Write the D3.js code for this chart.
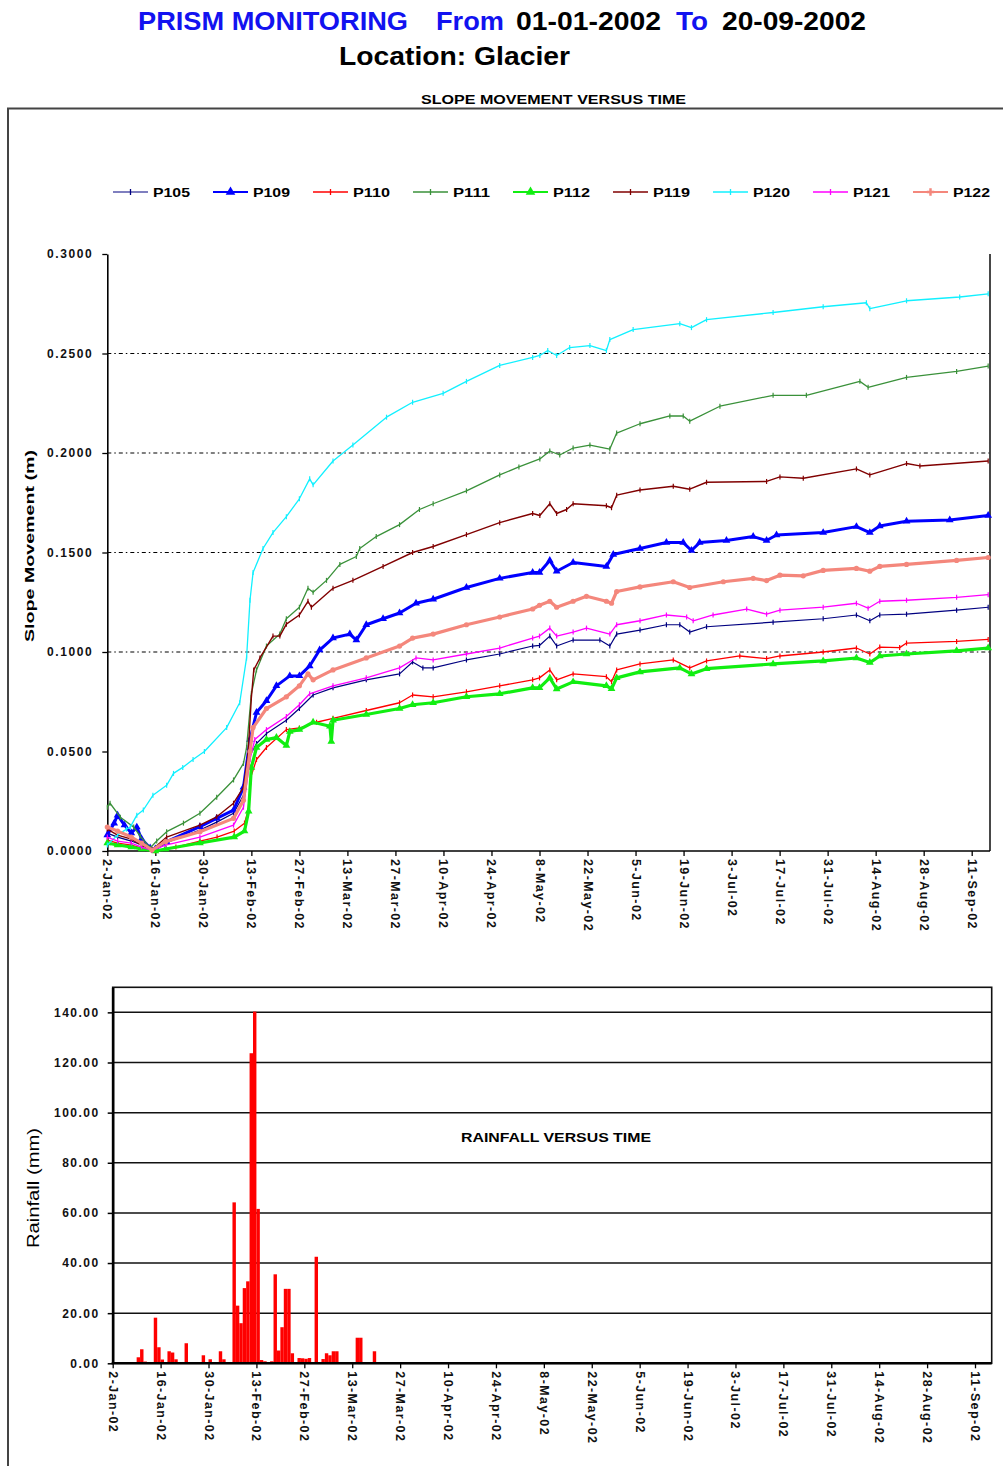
<!DOCTYPE html>
<html><head><meta charset="utf-8">
<script src="https://cdn.jsdelivr.net/npm/d3@7"></script>
<style>
body{margin:0;background:#fff;}
svg{display:block;font-family:"Liberation Sans",Arial,sans-serif;}
</style>
</head><body>
<svg id="c" width="1003" height="1466"></svg>
<script>
// ---------------- DATA ----------------
const tickLabels = ["2-Jan-02","16-Jan-02","30-Jan-02","13-Feb-02","27-Feb-02","13-Mar-02","27-Mar-02","10-Apr-02","24-Apr-02","8-May-02","22-May-02","5-Jun-02","19-Jun-02","3-Jul-02","17-Jul-02","31-Jul-02","14-Aug-02","28-Aug-02","11-Sep-02"];
const slopeTicks = [0, 0.05, 0.10, 0.15, 0.20, 0.25, 0.30];
const slopeGrid = [0.10, 0.15, 0.20, 0.25];
const rainTicks = [0, 20, 40, 60, 80, 100, 120, 140];
const seriesNames = ["P105","P109","P110","P111","P112","P119","P120","P121","P122"];

// [days since 2-Jan-2002, movement (m)]
const P105 = [[0,0.009],[3,0.007],[7,0.005],[10,0.003],[13,0.0003],[17,0.004],[27,0.0105],[31.9,0.0145],[36.8,0.019],[39.7,0.028],[41.6,0.048],[43.5,0.054],[46.4,0.059],[52.2,0.0657],[56,0.0716],[60,0.0784],[65.8,0.082],[75.5,0.086],[85.2,0.089],[89,0.095],[92,0.092],[95,0.092],[104.7,0.096],[114.4,0.099],[124,0.103],[126,0.1033],[129,0.108],[131,0.103],[135.8,0.106],[143.6,0.106],[146.5,0.103],[148.5,0.109],[155.3,0.111],[163,0.1137],[166.9,0.1137],[169.8,0.11],[174.7,0.1127],[194.1,0.115],[208.7,0.1167],[218.4,0.1186],[222.3,0.1157],[225.2,0.1186],[233,0.119],[247.6,0.121],[256.8,0.1225]];
const P109 = [[0,0.008],[2,0.014],[3,0.018],[5,0.013],[7,0.009],[8.6,0.012],[10,0.006],[12.5,0.0015],[14,0.001],[17.3,0.0047],[27,0.0122],[31.9,0.0164],[36.8,0.0205],[39.7,0.032],[41.6,0.056],[43.5,0.0696],[46.4,0.0755],[49.3,0.083],[53.2,0.088],[56,0.088],[59,0.093],[61.9,0.101],[65.8,0.107],[70.7,0.109],[72.6,0.106],[75.5,0.1137],[80.4,0.1167],[85.2,0.1196],[90,0.1245],[95,0.1265],[104.7,0.1324],[114.4,0.137],[124,0.14],[126,0.14],[129,0.146],[131,0.1406],[135.8,0.145],[145.5,0.143],[147.5,0.149],[155.3,0.152],[163,0.155],[167.9,0.155],[170.3,0.151],[172.7,0.155],[180.5,0.156],[188.3,0.158],[192.2,0.156],[195.1,0.1588],[208.7,0.16],[218.4,0.163],[222.3,0.16],[225.2,0.1633],[233,0.1657],[245.6,0.1663],[256.8,0.1686]];
const P110 = [[0,0.0055],[3,0.004],[7,0.003],[10,0.0015],[14,0],[20,0.002],[27,0.005],[32,0.007],[37,0.01],[40,0.014],[41,0.02],[42,0.038],[43.5,0.046],[46.4,0.052],[52.2,0.061],[56,0.0618],[61,0.0647],[65.8,0.0667],[75.5,0.0706],[85.2,0.0745],[89,0.0784],[95,0.0775],[104.7,0.08],[114.4,0.083],[124,0.086],[126,0.087],[129,0.091],[131,0.086],[135.8,0.089],[145.5,0.0876],[147,0.085],[148.5,0.091],[155.3,0.094],[165,0.096],[169.8,0.092],[174.7,0.0955],[184.4,0.098],[192.2,0.0967],[196.1,0.098],[208.7,0.1],[218.4,0.102],[222.3,0.099],[225.2,0.1025],[231,0.1022],[233,0.1045],[247.6,0.1053],[256.8,0.1063]];
const P111 = [[0,0.022],[0.8,0.024],[3.8,0.017],[7.7,0.012],[9.6,0.0075],[12.5,0.0015],[14.4,0.005],[17.3,0.0097],[22.2,0.014],[27,0.019],[31.9,0.027],[36.8,0.0357],[39.7,0.044],[40.6,0.052],[42,0.079],[43.5,0.091],[46.4,0.103],[50.3,0.109],[52.2,0.1167],[56,0.1225],[58.5,0.132],[60,0.13],[63.9,0.136],[67.8,0.144],[72.6,0.148],[73.6,0.152],[78.4,0.158],[85.2,0.164],[91,0.1716],[95,0.1745],[104.7,0.181],[114.4,0.189],[120,0.193],[126.1,0.197],[129,0.201],[131.9,0.199],[135.8,0.2025],[140.7,0.204],[146.5,0.202],[148.5,0.21],[155.3,0.2147],[164,0.2186],[167.9,0.2186],[169.8,0.216],[178.6,0.2235],[194.1,0.229],[203.8,0.229],[219.4,0.236],[221.8,0.233],[233,0.238],[247.6,0.241],[256.8,0.2437]];
const P112 = [[0,0.004],[3,0.003],[7,0.002],[10,0.001],[14,0],[17,0.001],[27,0.004],[37,0.007],[40,0.01],[41.2,0.02],[42,0.042],[43.5,0.052],[46.4,0.056],[49.3,0.057],[52.2,0.053],[53.2,0.06],[56,0.061],[60,0.0647],[64.9,0.0627],[65.3,0.055],[65.8,0.0657],[75.5,0.0686],[85.2,0.0716],[89,0.0735],[95,0.0745],[104.7,0.0775],[114.4,0.079],[124,0.082],[126,0.082],[129,0.087],[131,0.0814],[135.8,0.085],[145.5,0.083],[147,0.0815],[148.5,0.087],[155.3,0.09],[166.9,0.092],[170.3,0.089],[174.7,0.0916],[194.1,0.094],[208.7,0.0955],[218.4,0.097],[222.3,0.0947],[225.2,0.098],[233,0.099],[247.6,0.1006],[256.8,0.102]];
const P119 = [[0,0.011],[3,0.008],[7,0.006],[10,0.003],[13,0.0005],[17.3,0.007],[27,0.013],[31.9,0.0172],[36.8,0.024],[39.7,0.032],[41,0.048],[42,0.077],[42.7,0.091],[44.5,0.097],[48.3,0.108],[50.3,0.108],[52.2,0.114],[56,0.1186],[58.5,0.1255],[59.5,0.1225],[65.8,0.132],[71.6,0.136],[80.4,0.143],[89,0.15],[95,0.153],[104.7,0.159],[114.4,0.165],[124,0.1696],[126.1,0.1686],[129,0.1745],[131,0.1696],[133.9,0.1716],[135.8,0.1745],[145.5,0.1735],[147,0.1725],[148.5,0.1788],[155.3,0.1814],[165,0.1833],[169.8,0.1818],[174.7,0.1853],[192.2,0.1857],[196.1,0.188],[202.9,0.1873],[218.4,0.192],[222.3,0.189],[233,0.1947],[236.9,0.1935],[256.8,0.196]];
const P120 = [[0,0.003],[3,0.008],[5.6,0.011],[6.7,0.012],[8.6,0.018],[10.5,0.0206],[13.3,0.028],[17.3,0.033],[19.3,0.039],[22,0.042],[25,0.046],[28.3,0.05],[34.8,0.062],[38.6,0.0745],[40.6,0.097],[41.6,0.126],[42.5,0.14],[45.4,0.152],[48.3,0.16],[52.2,0.168],[56,0.177],[59,0.187],[60,0.184],[65.8,0.196],[71.6,0.204],[81.4,0.218],[89,0.2255],[97.9,0.23],[104.7,0.236],[114.4,0.244],[124,0.248],[126.1,0.249],[128.4,0.2515],[131,0.249],[134.8,0.253],[140.7,0.254],[145.5,0.2515],[146.5,0.257],[153.3,0.262],[166.9,0.265],[170.3,0.263],[174.7,0.267],[194.1,0.2706],[208.7,0.2735],[221.3,0.2755],[222.3,0.2725],[233,0.2765],[248.5,0.2784],[256.8,0.28]];
const P121 = [[0,0.007],[3,0.005],[7,0.004],[10,0.002],[13,0.0003],[17,0.003],[27,0.007],[36.8,0.013],[39.7,0.022],[41.6,0.046],[43,0.056],[46.4,0.061],[52.2,0.0676],[56,0.0735],[59,0.079],[65.8,0.083],[75.5,0.087],[85.2,0.092],[90,0.097],[95,0.096],[104.7,0.099],[114.4,0.102],[124,0.107],[126,0.108],[129,0.112],[131,0.108],[135.8,0.11],[139.7,0.112],[146.5,0.109],[148.5,0.1137],[155.3,0.1157],[163,0.1186],[168.9,0.1176],[170.8,0.1157],[176.6,0.1186],[186.4,0.1216],[192.2,0.119],[196.1,0.121],[208.7,0.1225],[218.4,0.1245],[221.8,0.122],[225.2,0.1255],[233,0.126],[247.6,0.1275],[256.8,0.1288]];
const P122 = [[0,0.012],[3,0.01],[7,0.007],[10,0.004],[13,0.0005],[17,0.0047],[27,0.0097],[36.8,0.0164],[39.7,0.0255],[41.6,0.05],[42.5,0.062],[46.4,0.0716],[52.2,0.0775],[56,0.083],[58.5,0.089],[60,0.086],[65.8,0.091],[75.5,0.097],[85.2,0.103],[89,0.107],[95,0.109],[104.7,0.1137],[114.4,0.1176],[124,0.1216],[126,0.1235],[129,0.1255],[131,0.1225],[135.8,0.1255],[139.7,0.128],[145.5,0.1255],[147,0.1245],[148.5,0.1304],[155.3,0.1327],[165,0.1353],[169.8,0.1324],[179.6,0.1353],[188.3,0.137],[192.2,0.1359],[196.1,0.1386],[202.9,0.1383],[208.7,0.141],[218.4,0.142],[222.3,0.1406],[225.2,0.143],[233,0.144],[247.6,0.146],[256.8,0.1475]];

// rainfall: day index since 2-Jan-2002, mm
const rainDays   = [7,8,9,12,13,14,16,17,18,21,26,28,31,32,35,36,37,38,39,40,41,42,43,44,46,47,48,49,50,51,52,54,55,56,57,59,61,62,63,64,65,71,72,76];
const rainValues = [2.4,5.6,0.7,18.2,6.4,1.5,4.8,4.3,1.6,8.0,3.2,1.6,4.8,1.6,64.2,23,16,30,32.7,123.7,140.3,61.6,1.3,0.8,0.8,35.5,5.1,14.4,29.7,29.7,4,2.1,2.0,1.8,2.1,42.5,1.7,4,3.2,4.8,4.8,10.2,10.2,4.8];

// ---------------- STYLES ----------------
const seriesData = [P105,P109,P110,P111,P112,P119,P120,P121,P122];
const styles = {
  P105:{c:"#000080",w:1.2,m:"tick"},
  P109:{c:"#0000ff",w:3,m:"tri"},
  P110:{c:"#ff0000",w:1.3,m:"tick"},
  P111:{c:"#3a913a",w:1.3,m:"tick"},
  P112:{c:"#11ee11",w:3.2,m:"tri"},
  P119:{c:"#800000",w:1.4,m:"tick"},
  P120:{c:"#11f0ff",w:1.3,m:"tick"},
  P121:{c:"#ff00ff",w:1.3,m:"tick"},
  P122:{c:"#f4877c",w:3.2,m:"dot"}
};

// ---------------- DRAW ----------------
const svg = d3.select("#c");
const base = new Date(2002,0,2);
const dayToDate = d => new Date(base.getTime() + d*864e5);
const parse = d3.timeParse("%d-%b-%y");
const tickDates = tickLabels.map(parse);
const endDate = parse("11-Sep-02");

// outer frame
svg.append("path").attr("d","M8,1470 L8,108.5 L1010,108.5").attr("fill","none").attr("stroke","#444").attr("stroke-width",2);

// title
const blue = "#1212f0";
const tpieces = [["PRISM MONITORING",138,270,blue],["From",436,68,blue],["01-01-2002",516,145,"#000"],["To",676,32,blue],["20-09-2002",722,144,"#000"]];
tpieces.forEach(p=>{
  svg.append("text").attr("x",p[1]).attr("y",30).attr("font-size",26).attr("font-weight","bold")
    .attr("fill",p[3]).attr("textLength",p[2]).attr("lengthAdjust","spacingAndGlyphs").text(p[0]);
});
svg.append("text").attr("x",339).attr("y",65).attr("font-size",26).attr("font-weight","bold")
  .attr("textLength",231).attr("lengthAdjust","spacingAndGlyphs").text("Location: Glacier");

svg.append("text").attr("x",421).attr("y",104).attr("font-size",13).attr("font-weight","bold")
  .attr("textLength",265).attr("lengthAdjust","spacingAndGlyphs").text("SLOPE MOVEMENT VERSUS TIME");

// ---- top chart ----
const xT = d3.scaleTime().domain([base,endDate]).range([107.3,971.7]);
const yT = d3.scaleLinear().domain([0,0.3]).range([851,254]);
const topRight = 990;

// gridlines
svg.append("g").selectAll("line").data(slopeGrid).join("line")
  .attr("x1",xT.range()[0]).attr("x2",topRight).attr("y1",d=>yT(d)).attr("y2",d=>yT(d))
  .attr("stroke","#000").attr("stroke-width",1.2).attr("stroke-dasharray","4,3,1.5,3");

// right border
svg.append("line").attr("x1",topRight).attr("x2",topRight).attr("y1",yT(0.3)).attr("y2",yT(0))
  .attr("stroke","#333").attr("stroke-width",1.8);

// y axis
const yAxT = svg.append("g").attr("transform",`translate(${xT.range()[0]},0)`)
  .call(d3.axisLeft(yT).tickValues(slopeTicks).tickFormat(d3.format(".4f")).tickSize(5).tickSizeOuter(0));
yAxT.select(".domain").attr("stroke","#000").attr("stroke-width",1.6);
yAxT.selectAll(".tick line").attr("stroke","#000").attr("stroke-width",1.3);
yAxT.selectAll(".tick text").attr("font-size",12).attr("font-weight","bold").attr("font-family","Liberation Sans, Arial")
  .attr("x",-14).attr("letter-spacing","1.6px").attr("fill","#111");

// x axis
const xAxT = svg.append("g").attr("transform",`translate(0,${yT(0)})`)
  .call(d3.axisBottom(xT).tickValues(tickDates).tickFormat((d,i)=>tickLabels[i]).tickSize(5).tickSizeOuter(0));
xAxT.select(".domain").remove();
svg.append("line").attr("x1",xT.range()[0]).attr("x2",topRight).attr("y1",yT(0)).attr("y2",yT(0)).attr("stroke","#000").attr("stroke-width",1.6);
xAxT.selectAll(".tick line").attr("stroke","#000").attr("stroke-width",1.3);
xAxT.selectAll(".tick text").attr("font-size",12.5).attr("font-weight","bold").attr("font-family","Liberation Sans, Arial")
  .attr("transform","rotate(90)").attr("text-anchor","start").attr("x",8).attr("y",0).attr("dy","0.36em")
  .attr("letter-spacing","1.4px").attr("fill","#111");

// y label
svg.append("text").attr("transform","translate(34,546) rotate(-90)").attr("text-anchor","middle")
  .attr("font-size",12).attr("font-weight","bold").attr("textLength",192).attr("lengthAdjust","spacingAndGlyphs")
  .text("Slope Movement (m)");

// series lines
const line = d3.line().x(d=>xT(dayToDate(d[0]))).y(d=>yT(d[1]));
const gS = svg.append("g");
seriesNames.forEach((n,i)=>{
  const st = styles[n];
  const data = seriesData[i];
  gS.append("path").datum(data).attr("d",line).attr("fill","none").attr("stroke",st.c)
    .attr("stroke-width",st.w).attr("stroke-linejoin","round");
  const gm = gS.append("g");
  if(st.m==="tri"){
    gm.selectAll("path").data(data).join("path")
      .attr("d",d3.symbol(d3.symbolTriangle,26)())
      .attr("transform",d=>`translate(${xT(dayToDate(d[0]))},${yT(d[1])})`).attr("fill",st.c);
  } else if(st.m==="dot"){
    gm.selectAll("circle").data(data).join("circle")
      .attr("cx",d=>xT(dayToDate(d[0]))).attr("cy",d=>yT(d[1])).attr("r",2.6).attr("fill",st.c);
  } else {
    gm.selectAll("line").data(data).join("line")
      .attr("x1",d=>xT(dayToDate(d[0]))).attr("x2",d=>xT(dayToDate(d[0])))
      .attr("y1",d=>yT(d[1])-2.5).attr("y2",d=>yT(d[1])+2.5).attr("stroke",st.c).attr("stroke-width",1.2);
  }
});

// legend
const lg = svg.append("g");
seriesNames.forEach((n,i)=>{
  const st = styles[n];
  const x0 = 113 + i*100, y0 = 192;
  lg.append("line").attr("x1",x0).attr("x2",x0+35).attr("y1",y0).attr("y2",y0)
    .attr("stroke",st.c).attr("stroke-width",Math.min(st.w,2));
  const mx = x0+17.5;
  if(st.m==="tri") lg.append("path").attr("d",d3.symbol(d3.symbolTriangle,40)()).attr("transform",`translate(${mx},${y0})`).attr("fill",st.c);
  else if(st.m==="dot") lg.append("path").attr("d",d3.symbol(d3.symbolCross,30)()).attr("transform",`translate(${mx},${y0})`).attr("fill",st.c);
  else lg.append("line").attr("x1",mx).attr("x2",mx).attr("y1",y0-3).attr("y2",y0+3).attr("stroke",st.c).attr("stroke-width",1.3);
  lg.append("text").attr("x",x0+40).attr("y",y0+5).attr("font-size",12.5).attr("font-weight","bold")
    .attr("textLength",37).attr("lengthAdjust","spacingAndGlyphs").text(n);
});

// ---- bottom chart ----
const xB = d3.scaleTime().domain([base,endDate]).range([112.7,975]);
const yB = d3.scaleLinear().domain([0,150]).range([1363.3,987.3]);
const botRight = 991.7;

svg.append("rect").attr("x",xB.range()[0]).attr("y",yB(150)).attr("width",botRight-xB.range()[0]).attr("height",yB(0)-yB(150))
  .attr("fill","none").attr("stroke","#111").attr("stroke-width",1.6);
svg.append("g").selectAll("line").data(rainTicks.filter(v=>v>0)).join("line")
  .attr("x1",xB.range()[0]).attr("x2",botRight).attr("y1",d=>yB(d)).attr("y2",d=>yB(d))
  .attr("stroke","#111").attr("stroke-width",1.5);

// bars
svg.append("g").selectAll("rect").data(rainDays.map((d,i)=>[d,rainValues[i]])).join("rect")
  .attr("x",d=>xB(dayToDate(d[0]))).attr("width",d=>xB(dayToDate(d[0]+1))-xB(dayToDate(d[0])))
  .attr("y",d=>yB(d[1])).attr("height",d=>yB(0)-yB(d[1])).attr("fill","#ff0000");

const yAxB = svg.append("g").attr("transform",`translate(${xB.range()[0]},0)`)
  .call(d3.axisLeft(yB).tickValues(rainTicks).tickFormat(d3.format(".2f")).tickSize(5).tickSizeOuter(0));
yAxB.select(".domain").attr("stroke","#000").attr("stroke-width",2.6);
yAxB.selectAll(".tick line").attr("stroke","#000").attr("stroke-width",1.5);
yAxB.selectAll(".tick text").attr("font-size",12).attr("font-weight","bold").attr("font-family","Liberation Sans, Arial")
  .attr("x",-13).attr("letter-spacing","1.5px").attr("fill","#111");

const xAxB = svg.append("g").attr("transform",`translate(0,${yB(0)})`)
  .call(d3.axisBottom(xB).tickValues(tickDates).tickFormat((d,i)=>tickLabels[i]).tickSize(5).tickSizeOuter(0));
xAxB.select(".domain").remove();
svg.append("line").attr("x1",xB.range()[0]-1).attr("x2",botRight).attr("y1",yB(0)).attr("y2",yB(0)).attr("stroke","#000").attr("stroke-width",2.4);
xAxB.selectAll(".tick line").attr("stroke","#000").attr("stroke-width",1.3);
xAxB.selectAll(".tick text").attr("font-size",12.5).attr("font-weight","bold").attr("font-family","Liberation Sans, Arial")
  .attr("transform","rotate(90)").attr("text-anchor","start").attr("x",8).attr("y",0).attr("dy","0.36em")
  .attr("letter-spacing","1.4px").attr("fill","#111");

svg.append("text").attr("x",461).attr("y",1142).attr("font-size",12.5).attr("font-weight","bold")
  .attr("textLength",190).attr("lengthAdjust","spacingAndGlyphs").text("RAINFALL VERSUS TIME");

svg.append("text").attr("transform","translate(39,1188) rotate(-90)").attr("text-anchor","middle")
  .attr("font-size",17).attr("textLength",120).attr("lengthAdjust","spacingAndGlyphs").text("Rainfall (mm)");
</script>
</body></html>
